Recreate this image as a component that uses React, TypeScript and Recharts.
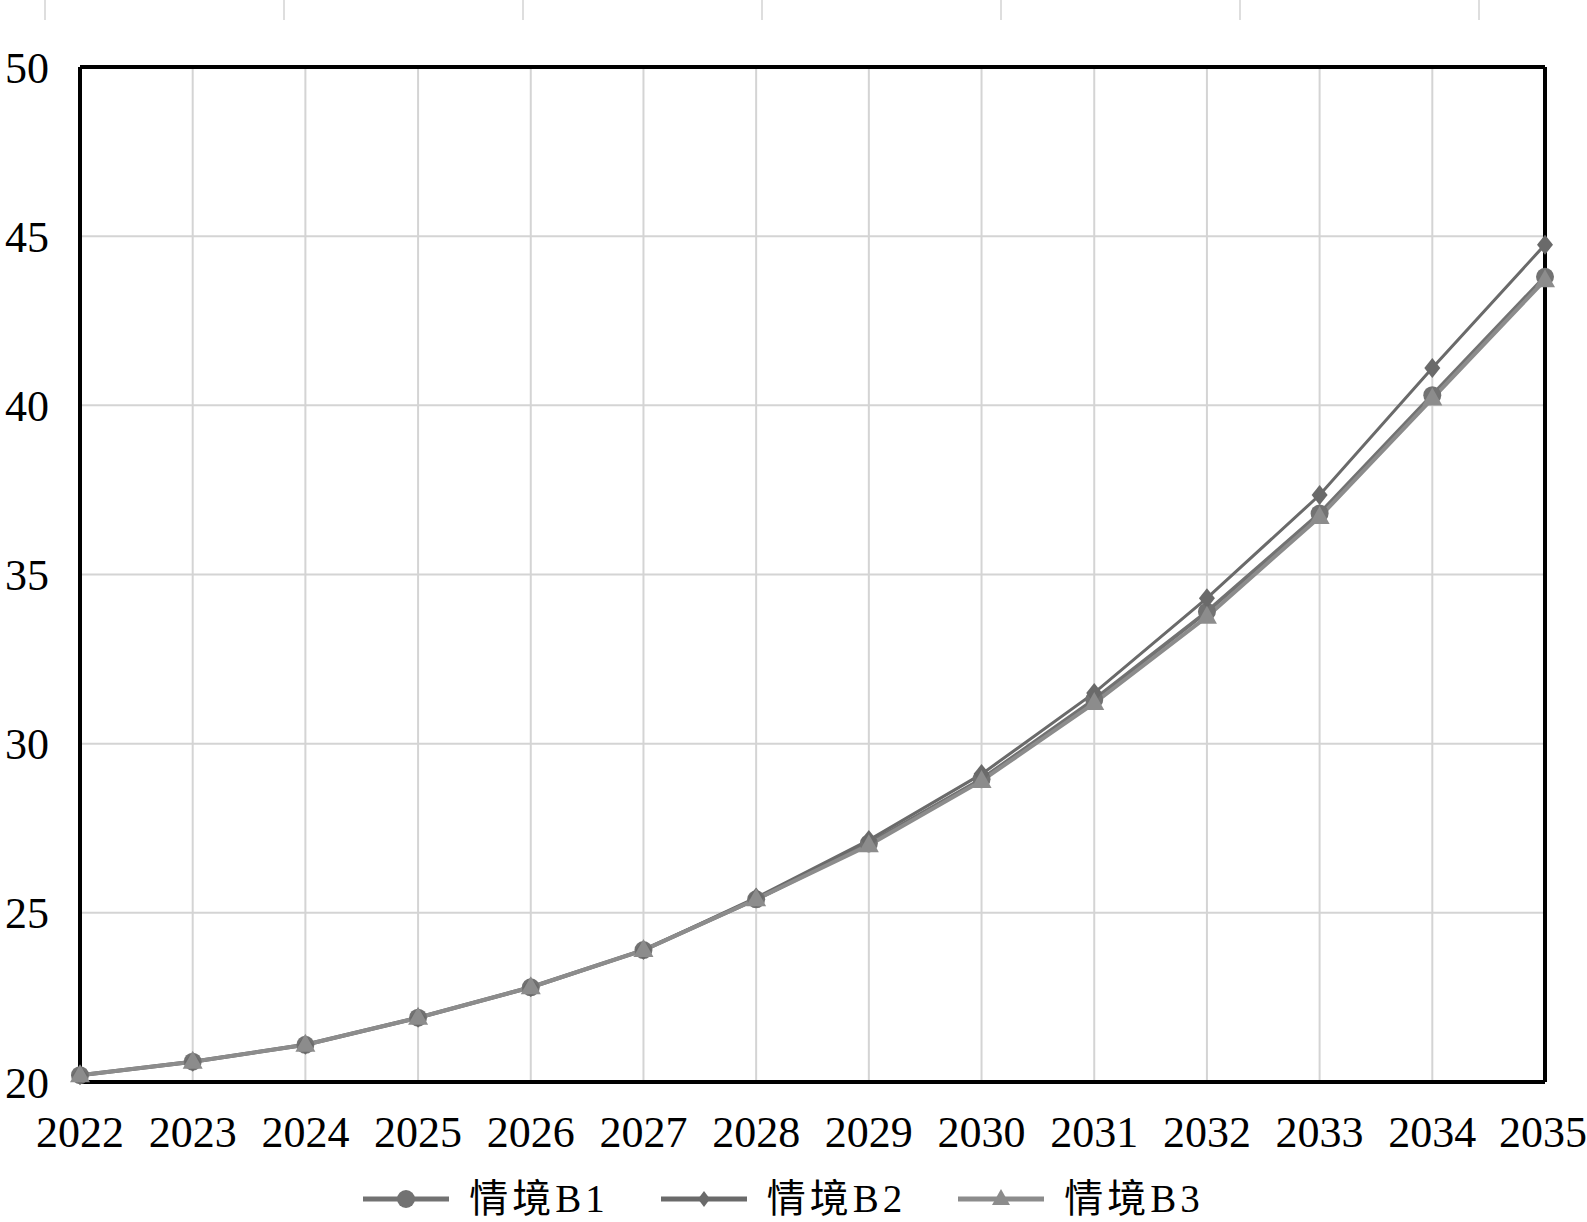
import React from 'react';
import { LineChart, Line, XAxis, YAxis, CartesianGrid, Legend, ReferenceLine } from 'recharts';

// values
const years = [2022, 2023, 2024, 2025, 2026, 2027, 2028, 2029, 2030, 2031, 2032, 2033, 2034, 2035];
const b1 = [20.2, 20.6, 21.1, 21.9, 22.8, 23.9, 25.4, 27.05, 28.95, 31.3, 33.9, 36.8, 40.3, 43.8];
const b2 = [20.2, 20.6, 21.1, 21.9, 22.8, 23.9, 25.45, 27.15, 29.1, 31.5, 34.3, 37.35, 41.1, 44.75];
const b3 = [20.2, 20.6, 21.1, 21.9, 22.8, 23.9, 25.4, 27.0, 28.9, 31.2, 33.75, 36.7, 40.2, 43.7];
const yTicks = [20, 25, 30, 35, 40, 45, 50];
const seriesNames = ['情境B1', '情境B2', '情境B3'];

const colors = ['#727272', '#6a6a6a', '#8c8c8c'];
const serif = '"Liberation Serif", "Times New Roman", "Noto Sans CJK SC", serif';

const data = years.map((year, i) => ({ year, b1: b1[i], b2: b2[i], b3: b3[i] }));

// little gray marks at the very top of the page (cropped remains of another figure)
const topMarks = [44, 283, 522, 761, 1000, 1239, 1478];

function Marker({ kind, color }: { kind: number; color: string }) {
  if (kind === 0) return <circle cx={43} cy={17} r={9} fill={color} />;
  if (kind === 1) return <polygon points="43,9 49,17 43,25 37,17" fill={color} />;
  return <polygon points="43,7 52,23 34,23" fill={color} />;
}

function LegendContent() {
  return (
    <div
      style={{
        display: 'flex',
        justifyContent: 'center',
        alignItems: 'center',
        paddingTop: 35,
        paddingLeft: 22,
        gap: 52,
      }}
    >
      {seriesNames.map((name, i) => (
        <div key={name} style={{ display: 'flex', alignItems: 'center' }}>
          <svg width={86} height={34}>
            <line x1={0} y1={17} x2={86} y2={17} stroke={colors[i]} strokeWidth={5} />
            <Marker kind={i} color={colors[i]} />
          </svg>
          <span style={{ marginLeft: 20, fontSize: 39, letterSpacing: 4, fontFamily: serif, color: '#000', lineHeight: '44px' }}>
            {name}
          </span>
        </div>
      ))}
    </div>
  );
}

export default function App() {
  return (
    <div style={{ position: 'absolute', left: 0, top: 0, width: 1587, height: 1222, background: '#fff' }}>
      {topMarks.map((x) => (
        <div key={x} style={{ position: 'absolute', left: x, top: 0, width: 2, height: 20, background: '#dedede' }} />
      ))}
      <LineChart width={1587} height={1222} data={data} margin={{ top: 67, right: 42, left: 0, bottom: 0 }}>
        <CartesianGrid stroke="#d4d4d4" strokeWidth={2} />
        <XAxis
          dataKey="year"
          type="number"
          domain={[2022, 2035]}
          ticks={years}
          height={60}
          tickLine={false}
          tickSize={0}
          tickMargin={34}
          axisLine={{ stroke: '#000', strokeWidth: 4 }}
          tick={{ fill: '#000', fontSize: 44, fontFamily: serif }}
        />
        <YAxis
          domain={[20, 50]}
          ticks={yTicks}
          width={80}
          tickLine={false}
          tickSize={0}
          tickMargin={31}
          axisLine={{ stroke: '#000', strokeWidth: 4 }}
          tick={{ fill: '#000', fontSize: 44, fontFamily: serif }}
        />
        <ReferenceLine y={50} stroke="#000" strokeWidth={4} />
        <ReferenceLine x={2035} stroke="#000" strokeWidth={4} />
        <Legend verticalAlign="bottom" height={80} content={<LegendContent />} />
        <Line
          dataKey="b1"
          name={seriesNames[0]}
          stroke={colors[0]}
          strokeWidth={4}
          dot={{ r: 9, fill: colors[0], stroke: 'none' }}
          isAnimationActive={false}
        />
        <Line
          dataKey="b2"
          name={seriesNames[1]}
          stroke={colors[1]}
          strokeWidth={3}
          dot={(p: any) => (
            <polygon
              key={`d-${p.index}`}
              points={`${p.cx},${p.cy - 10} ${p.cx + 8},${p.cy} ${p.cx},${p.cy + 10} ${p.cx - 8},${p.cy}`}
              fill={colors[1]}
            />
          )}
          isAnimationActive={false}
        />
        <Line
          dataKey="b3"
          name={seriesNames[2]}
          stroke={colors[2]}
          strokeWidth={4}
          dot={(p: any) => (
            <polygon
              key={`t-${p.index}`}
              points={`${p.cx},${p.cy - 11} ${p.cx + 10},${p.cy + 7} ${p.cx - 10},${p.cy + 7}`}
              fill={colors[2]}
            />
          )}
          isAnimationActive={false}
        />
      </LineChart>
    </div>
  );
}
